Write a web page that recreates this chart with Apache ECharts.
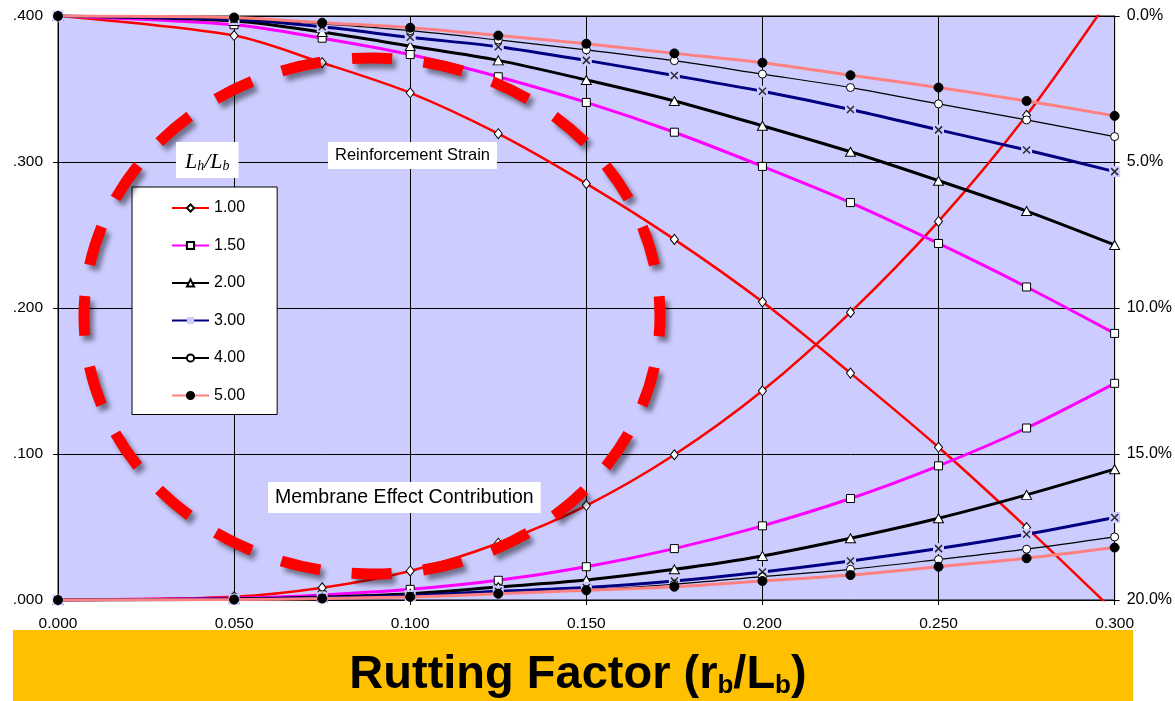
<!DOCTYPE html>
<html>
<head>
<meta charset="utf-8">
<script src="https://cdn.jsdelivr.net/npm/echarts@6/dist/echarts.min.js"></script>
<style>
  html, body { margin: 0; padding: 0; background: #fff; }
  #chart { width: 1175px; height: 701px; }
</style>
</head>
<body>
<div id="chart"></div>
<script>
// rutting factor rb/Lb
var xs = [0, 0.05, 0.075, 0.1, 0.125, 0.15, 0.175, 0.2, 0.225, 0.25, 0.275, 0.3];
var ratios = ['1.00', '1.50', '2.00', '3.00', '4.00', '5.00'];

// reinforcement strain, % (right axis, reversed)
var strain100 = [0, 0.67, 1.6, 2.63, 4.03, 5.74, 7.65, 9.79, 12.23, 14.77, 17.52, 20.4];
var strain150 = [0, 0.3, 0.76, 1.32, 2.08, 2.96, 3.98, 5.15, 6.39, 7.79, 9.28, 10.87];
var strain200 = [0, 0.17, 0.55, 1.03, 1.52, 2.19, 2.91, 3.76, 4.65, 5.64, 6.68, 7.84];
var strain300 = [0, 0.12, 0.37, 0.73, 1.05, 1.52, 2.04, 2.58, 3.20, 3.90, 4.59, 5.33];
var strain400 = [0, 0.09, 0.27, 0.50, 0.82, 1.16, 1.53, 1.99, 2.45, 3.01, 3.56, 4.13];
var strain500 = [0, 0.05, 0.23, 0.40, 0.67, 0.95, 1.28, 1.60, 2.03, 2.45, 2.91, 3.42];

// membrane effect contribution (left axis)
var memb100 = [0, 0.0023, 0.0084, 0.0199, 0.0389, 0.0647, 0.0995, 0.1433, 0.197, 0.2593, 0.332, 0.417];
var memb150 = [0, 0.0013, 0.0035, 0.0073, 0.0135, 0.0228, 0.0352, 0.0508, 0.0695, 0.0919, 0.1178, 0.1484];
var memb200 = [0, 0.0008, 0.002, 0.0043, 0.0089, 0.0137, 0.021, 0.0302, 0.0423, 0.056, 0.072, 0.0896];
var memb300 = [0, 0.0005, 0.0015, 0.003, 0.006, 0.0085, 0.013, 0.0192, 0.0267, 0.0352, 0.045, 0.0565];
var memb400 = [0, 0.0004, 0.0012, 0.0025, 0.0045, 0.007, 0.0108, 0.016, 0.021, 0.0277, 0.0348, 0.0432];
var memb500 = [0, 0.0003, 0.001, 0.0021, 0.0043, 0.0066, 0.0091, 0.013, 0.0171, 0.0228, 0.0286, 0.0359];

var strains = [strain100, strain150, strain200, strain300, strain400, strain500];
var membs = [memb100, memb150, memb200, memb300, memb400, memb500];

var BG = '#CCCCFF';
var FONT = '"Liberation Sans", Arial, sans-serif';

var looks = [
  {line: '#ff0000', w: 2.5, symbol: 'diamond',  size: [8, 10], fill: '#fff', border: '#000'},
  {line: '#ff00ff', w: 3,   symbol: 'rect',     size: 8,       fill: '#fff', border: '#000'},
  {line: '#000000', w: 3,   symbol: 'triangle', size: [10, 9], fill: '#fff', border: '#000'},
  {line: '#000080', w: 3,   symbol: 'rect',     size: 11,      fill: BG,     border: BG},
  {line: '#000000', w: 1.2, symbol: 'circle',   size: 8,       fill: '#fff', border: '#000'},
  {line: '#ff8080', w: 3,   symbol: 'circle',   size: 9,       fill: '#000', border: '#000'}
];

function pairs(arr) {
  return xs.map(function (x, i) { return [x, arr[i]]; });
}

function lineSeries(k, arr, axis) {
  var lk = looks[k];
  return {
    name: ratios[k],
    type: 'line',
    yAxisIndex: axis,
    data: pairs(arr),
    smooth: 0.3,
    symbol: lk.symbol,
    symbolSize: lk.size,
    showAllSymbol: true,
    lineStyle: {color: lk.line, width: lk.w},
    itemStyle: {color: lk.fill, borderColor: lk.border, borderWidth: lk.border === BG ? 0 : 1},
    emphasis: {disabled: true},
    z: 2 + k * 0.1
  };
}

var series = [];
for (var k = 0; k < ratios.length; k++) {
  series.push(lineSeries(k, strains[k], 1));
  series.push(lineSeries(k, membs[k], 0));
}
// x marks for 3.00 drawn on top of their background squares
[strains[3], membs[3]].forEach(function (arr, j) {
  series.push({
    name: 'x' + j,
    type: 'scatter',
    yAxisIndex: j === 0 ? 1 : 0,
    data: pairs(arr),
    symbol: 'path://M0,0L1,1M1,0L0,1',
    symbolSize: 7,
    itemStyle: {color: 'rgba(0,0,0,0)', borderColor: '#000', borderWidth: 1.5},
    emphasis: {disabled: true},
    clip: true,
    z: 3
  });
});

// dashed ring: 24 dashes round the ellipse, one centred on the left end
var ring = {cx: 372, cy: 316, rx: 288, ry: 258};
var hh = Math.pow((ring.rx - ring.ry) / (ring.rx + ring.ry), 2);
var ringLen = Math.PI * (ring.rx + ring.ry) * (1 + 3 * hh / (10 + Math.sqrt(4 - 3 * hh)));
var period = ringLen / 24;

var chart = echarts.init(document.getElementById('chart'));
chart.setOption({
  animation: false,
  backgroundColor: '#fff',
  textStyle: {fontFamily: FONT},
  grid: {left: 58, right: 60, top: 16, bottom: 101, show: true, backgroundColor: BG,
         borderColor: '#000', borderWidth: 1},
  legend: {
    data: ratios,
    orient: 'vertical',
    left: 132, top: 187,
    padding: [13, 32, 11, 39],
    itemWidth: 37, itemHeight: 9, itemGap: 21.5,
    backgroundColor: '#fff', borderColor: '#000', borderWidth: 1,
    selectedMode: false,
    textStyle: {fontSize: 16, color: '#000', lineHeight: 16, fontFamily: FONT}
  },
  xAxis: {
    type: 'value', min: 0, max: 0.3, interval: 0.05,
    axisLine: {lineStyle: {color: '#000', width: 1}},
    axisTick: {length: 5, lineStyle: {color: '#000'}},
    axisLabel: {color: '#000', fontSize: 15.5, margin: 16,
      formatter: function (v) { return v.toFixed(3); }},
    splitLine: {show: true, lineStyle: {color: '#000', width: 1}}
  },
  yAxis: [
    {
      type: 'value', min: 0, max: 0.4, interval: 0.1,
      axisLine: {show: true, lineStyle: {color: '#000', width: 1}},
      axisTick: {show: true, length: 5, lineStyle: {color: '#000'}},
      axisLabel: {color: '#000', fontSize: 15.5, margin: 15,
        formatter: function (v) { return v.toFixed(3).replace(/^0/, ''); }},
      splitLine: {show: true, lineStyle: {color: '#000', width: 1}}
    },
    {
      type: 'value', min: 0, max: 20, interval: 5, inverse: true, position: 'right',
      axisLine: {show: true, lineStyle: {color: '#000', width: 1}},
      axisTick: {show: true, length: 5, lineStyle: {color: '#000'}},
      axisLabel: {color: '#000', fontSize: 16, margin: 12,
        formatter: function (v) { return v.toFixed(1) + '%'; }},
      splitLine: {show: false}
    }
  ],
  graphic: [
    {
      type: 'ellipse', z: 50,
      shape: ring,
      style: {fill: 'none', stroke: '#ff0000', lineWidth: 11,
              lineDash: [40, period - 40], lineDashOffset: 20,
              shadowBlur: 5, shadowColor: 'rgba(0,0,0,0.45)', shadowOffsetX: 4, shadowOffsetY: 5}
    },
    {
      type: 'text', z: 60, x: 328, y: 142,
      style: {text: 'Reinforcement Strain', font: '16.5px ' + FONT, fill: '#000',
              backgroundColor: '#fff', padding: [4, 7, 4, 7], lineHeight: 19}
    },
    {
      type: 'text', z: 60, x: 268, y: 482,
      style: {text: 'Membrane Effect Contribution', font: '19.5px ' + FONT, fill: '#000',
              backgroundColor: '#fff', padding: [4, 7, 4, 7], lineHeight: 23}
    },
    {
      type: 'text', z: 60, x: 176, y: 142,
      style: {
        text: '{a|L}{s|h}{a|/L}{s|b}',
        backgroundColor: '#fff', padding: [5, 9, 5, 9],
        rich: {
          a: {fontFamily: '"Liberation Serif", "Times New Roman", serif', fontStyle: 'italic',
              fontSize: 22, lineHeight: 26, verticalAlign: 'bottom', fill: '#000'},
          s: {fontFamily: '"Liberation Serif", "Times New Roman", serif', fontStyle: 'italic',
              fontSize: 14, lineHeight: 13, verticalAlign: 'bottom', fill: '#000'}
        }
      }
    },
    {
      type: 'rect', z: 60,
      shape: {x: 13, y: 630, width: 1120, height: 71},
      style: {fill: '#FFC000'}
    },
    {
      type: 'text', z: 61, x: 578, y: 643,
      style: {
        text: '{a|Rutting Factor (r}{s|b}{a|/L}{s|b}{a|)}',
        align: 'center', verticalAlign: 'top',
        rich: {
          a: {fontFamily: FONT, fontWeight: 'bold', fontSize: 47, lineHeight: 56,
              verticalAlign: 'bottom', fill: '#000'},
          s: {fontFamily: FONT, fontWeight: 'bold', fontSize: 26, lineHeight: 4,
              verticalAlign: 'bottom', fill: '#000'}
        }
      }
    }
  ],
  series: series
});
</script>
</body>
</html>
